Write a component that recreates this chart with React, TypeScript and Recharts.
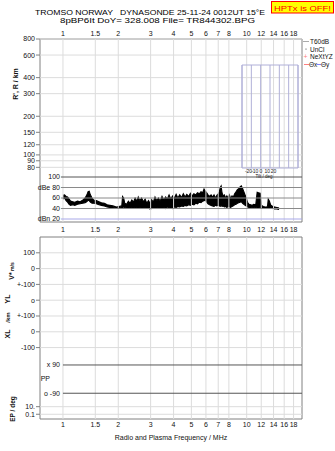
import React from 'react';
import {
  ComposedChart,
  XAxis,
  YAxis,
  Area,
  Line,
  LabelList,
  ReferenceLine,
  ReferenceArea,
  Label,
} from 'recharts';

const FONT = 'Liberation Sans, Arial, sans-serif';

// Frequency axis (MHz)
const freqDomain = [0.75, 20];
const freqTicks = [1, 1.5, 2, 3, 4, 5, 6, 7, 8, 10, 12, 14, 16, 18];

// Virtual range axis (km)
const rangeDomain = [30, 800];
const rangeTicks = [80, 90, 100, 120, 150, 200, 300, 400, 600, 800];

// Amplitude sub panel (dB)
const dbDomain = [14.3, 362.9];
const dbLevels = [100, 80, 60, 40, 20];
const dbLabels = ['100', 'dBe 80', '60', '40', 'dBn 20'];
const dbColors = ['#555555', '#8a8a8a', '#8a8a8a', '#8a8a8a', '#a8a8e8'];

// Noise / amplitude trace: frequency (MHz), lower and upper envelope (dB)
const traceFreq = [
  1.0, 1.02, 1.04, 1.06, 1.08, 1.1, 1.13, 1.16, 1.2, 1.24,
  1.28, 1.32, 1.35, 1.37, 1.39, 1.41, 1.44, 1.47, 1.52, 1.57,
  1.62, 1.68, 1.74, 1.8, 1.87, 1.95, 2.03, 2.09, 2.11, 2.14,
  2.17, 2.22, 2.27, 2.32, 2.37, 2.42, 2.47, 2.52, 2.57, 2.62,
  2.68, 2.74, 2.8, 2.86, 2.92, 2.98, 3.04, 3.1, 3.17, 3.24,
  3.31, 3.38, 3.46, 3.54, 3.62, 3.7, 3.78, 3.86, 3.95, 4.04,
  4.13, 4.22, 4.32, 4.42, 4.52, 4.62, 4.72, 4.83, 4.94, 5.05,
  5.16, 5.28, 5.4, 5.52, 5.64, 5.76, 5.86, 5.96, 6.06, 6.16,
  6.28, 6.4, 6.52, 6.64, 6.76, 6.88, 7.0, 7.1, 7.18, 7.26,
  7.34, 7.44, 7.56, 7.68, 7.8, 7.92, 8.05, 8.18, 8.32, 8.46,
  8.6, 8.75, 8.9, 9.05, 9.2, 9.35, 9.5, 9.65, 9.8, 9.95,
  10.1, 10.3, 10.5, 10.7, 10.9, 11.2, 11.4, 11.6, 11.85, 12.05,
  12.3, 12.6, 12.9, 13.0, 13.1, 13.3, 13.5, 13.8, 14.2, 14.6,
  15.0,
];
const traceLow = [
  58, 60, 55, 52, 48, 46, 47, 46, 48, 49,
  50, 51, 53, 56, 55, 52, 50, 50, 49, 47,
  46, 45, 43, 42, 42, 41, 41, 42, 42, 43,
  42, 41, 40, 42, 41, 40, 42, 41, 40, 42,
  40, 41, 42, 40, 41, 39, 40, 41, 40, 42,
  40, 41, 40, 42, 40, 43, 41, 42, 40, 43,
  42, 44, 43, 45, 44, 46, 45, 47, 46, 48,
  47, 50, 49, 52, 51, 54, 55, 56, 52, 49,
  47, 46, 45, 44, 46, 45, 46, 45, 44, 46,
  44, 45, 43, 44, 42, 44, 43, 42, 44, 45,
  47, 48, 50, 51, 52, 53, 50, 48, 46, 45,
  43, 42, 42, 41, 42, 41, 42, 42, 41, 41,
  41, 41, 40, 41, 41, 41, 40, 40, 39, 39,
  38,
];
const traceHigh = [
  65, 66, 63, 62, 58, 54, 53, 52, 54, 53,
  56, 60, 66, 72, 73, 66, 60, 56, 55, 53,
  51, 50, 47, 46, 45, 43, 44, 45, 63, 60,
  50, 48, 54, 50, 56, 52, 60, 54, 62, 55,
  60, 53, 58, 50, 55, 50, 57, 52, 62, 55,
  60, 54, 63, 56, 62, 58, 66, 58, 64, 60,
  67, 60, 66, 61, 68, 62, 67, 63, 69, 64,
  68, 66, 70, 68, 72, 70, 77, 73, 70, 66,
  63, 66, 62, 66, 60, 65, 68, 72, 80, 83,
  70, 64, 66, 60, 64, 60, 66, 59, 64, 62,
  68, 72, 76, 78, 81, 83, 78, 72, 66, 60,
  52, 48, 47, 46, 48, 47, 71, 70, 69, 46,
  44, 43, 43, 46, 58, 54, 47, 44, 43, 42,
  41,
];

// Tilt inset (deg)
const tiltGridDomain = [-30, 30];
const tiltLines = [-30, -20, -10, 0, 10, 20, 30];
const tiltLabelDomain = [-30.4, 59.2];
const tiltTicks = [-20, -10, 0, 10, 20];

// Lower panel rows
const lowerDomain = [0, 11.52];
const lowerRows = [1, 2, 3, 4, 5, 6, 7, 10.74, 11.22];
const lowerLabels = ['100', '0', '+-100', 'o', '+-100', '0', '-100', '10.', '0.1'];
// polarisation reference lines (x 90 / o -90), from 1 MHz to the right edge
const ppFreq = [1, 20];
const ppX90 = [8.1, 8.1];
const ppO90 = [9.89, 9.89];

// Legend entries
const legendItems = ['T60dB', 'UnCl', 'NeXtYZ'];

const traceData = traceFreq.map((f, i) => ({ f, db: [traceLow[i], traceHigh[i]] }));
const ppData = ppFreq.map((f, i) => ({ f, x90: ppX90[i], o90: ppO90[i] }));
const tiltData = tiltLines.map((t) => ({ t }));

const tickStyle = { fontSize: 7, fill: '#111', fontFamily: FONT };
const GRID = '#dcdcdc';
const FRAME = '#808080';
const TILT = '#b0b0d8';

const abs: React.CSSProperties = { position: 'absolute', left: 0, top: 0 };

const firstLabel = (text: string) => (props: any) => {
  if (props.index !== 0) return null;
  return (
    <text
      x={props.x - 3}
      y={props.y}
      dy="0.35em"
      textAnchor="end"
      fontSize={7}
      fill="#111"
      fontFamily={FONT}
    >
      {text}
    </text>
  );
};

function TopPanel() {
  return (
    <div style={abs}>
      <ComposedChart
        width={335}
        height={451}
        data={traceData}
        margin={{ top: 29, right: 33, bottom: 229, left: 10 }}
      >
        <XAxis
          xAxisId="f"
          dataKey="f"
          type="number"
          scale="log"
          domain={freqDomain}
          ticks={freqTicks}
          interval={0}
          allowDataOverflow
          orientation="top"
          height={10}
          tickSize={0}
          tickMargin={3}
          axisLine={false}
          tickLine={false}
          tick={tickStyle}
        />
        <YAxis
          yAxisId="r"
          type="number"
          scale="log"
          domain={rangeDomain}
          ticks={rangeTicks}
          interval={0}
          allowDataOverflow
          orientation="left"
          width={30}
          tickSize={4}
          tickMargin={1}
          axisLine={false}
          tickLine={{ stroke: FRAME }}
          tick={tickStyle}
        />
        <YAxis yAxisId="db" type="number" domain={dbDomain} allowDataOverflow orientation="right" hide />
        {freqTicks.map((f) => (
          <ReferenceLine key={'v' + f} xAxisId="f" yAxisId="r" x={f} stroke={GRID} />
        ))}
        {rangeTicks.map((r) => (
          <ReferenceLine key={'h' + r} xAxisId="f" yAxisId="r" y={r} stroke={GRID} />
        ))}
        <ReferenceArea
          xAxisId="f"
          yAxisId="r"
          x1={freqDomain[0]}
          x2={freqDomain[1]}
          y1={rangeDomain[0]}
          y2={rangeDomain[1]}
          fill="none"
          stroke={FRAME}
          fillOpacity={0}
        />
        {dbLevels.map((v, i) => (
          <ReferenceLine
            key={v}
            xAxisId="f"
            yAxisId="db"
            segment={[
              { x: 0.975, y: v },
              { x: freqDomain[1], y: v },
            ]}
            stroke={dbColors[i]}
            label={{ value: dbLabels[i], position: 'left', offset: 1, ...tickStyle }}
          />
        ))}
        <Area
          xAxisId="f"
          yAxisId="db"
          dataKey="db"
          type="linear"
          stroke="#000"
          strokeWidth={1.1}
          fill="#000"
          fillOpacity={1}
          dot={false}
          activeDot={false}
          isAnimationActive={false}
        />
      </ComposedChart>
    </div>
  );
}

function TiltInset() {
  return (
    <div style={abs}>
      <ComposedChart
        width={335}
        height={451}
        data={tiltData}
        margin={{ top: 65, right: 37, bottom: 274, left: 242 }}
      >
        <XAxis
          xAxisId="g"
          dataKey="t"
          type="number"
          domain={tiltGridDomain}
          allowDataOverflow
          orientation="top"
          height={0}
          hide
        />
        <XAxis
          xAxisId="t"
          dataKey="t"
          type="number"
          domain={tiltLabelDomain}
          ticks={tiltTicks}
          interval={0}
          allowDataOverflow
          orientation="bottom"
          height={9}
          tickSize={0}
          tickMargin={1}
          axisLine={false}
          tickLine={false}
          tick={{ fontSize: 5, fill: '#222', fontFamily: FONT }}
        />
        <YAxis yAxisId="ty" type="number" domain={[0, 1]} allowDataOverflow orientation="right" width={0} hide />
        {tiltLines.map((v) => (
          <ReferenceLine key={v} xAxisId="g" yAxisId="ty" x={v} stroke={TILT} />
        ))}
        <ReferenceArea
          xAxisId="g"
          yAxisId="ty"
          x1={tiltGridDomain[0]}
          x2={tiltGridDomain[1]}
          y1={0}
          y2={1}
          fill="none"
          fillOpacity={0}
          stroke={TILT}
        />
      </ComposedChart>
    </div>
  );
}

function LowerPanel() {
  return (
    <div style={abs}>
      <ComposedChart
        width={335}
        height={451}
        data={ppData}
        margin={{ top: 227, right: 33, bottom: 11, left: 10 }}
      >
        <XAxis
          xAxisId="top"
          dataKey="f"
          type="number"
          scale="log"
          domain={freqDomain}
          ticks={freqTicks}
          interval={0}
          allowDataOverflow
          orientation="top"
          height={10}
          tickSize={0}
          tickMargin={5}
          axisLine={false}
          tickLine={false}
          tick={tickStyle}
        />
        <XAxis
          xAxisId="bottom"
          dataKey="f"
          type="number"
          scale="log"
          domain={freqDomain}
          ticks={freqTicks}
          interval={0}
          allowDataOverflow
          orientation="bottom"
          height={21}
          tickSize={0}
          tickMargin={3}
          axisLine={false}
          tickLine={false}
          tick={tickStyle}
        >
          <Label
            value="Radio and Plasma Frequency / MHz"
            position="insideBottom"
            offset={0}
            style={{ fontSize: 7, fill: '#111', fontFamily: FONT }}
          />
        </XAxis>
        <YAxis
          yAxisId="row"
          type="number"
          domain={lowerDomain}
          allowDataOverflow
          reversed
          ticks={lowerRows}
          interval={0}
          width={30}
          tickSize={4}
          tickMargin={1}
          axisLine={false}
          tickLine={{ stroke: FRAME }}
          tick={tickStyle}
          tickFormatter={(v: number) => lowerLabels[lowerRows.indexOf(v)] ?? ''}
        />
        {freqTicks.map((f) => (
          <ReferenceLine key={'v' + f} xAxisId="top" yAxisId="row" x={f} stroke={GRID} />
        ))}
        {lowerRows.map((r) => (
          <ReferenceLine key={'h' + r} xAxisId="top" yAxisId="row" y={r} stroke={GRID} />
        ))}
        <ReferenceArea
          xAxisId="top"
          yAxisId="row"
          x1={freqDomain[0]}
          x2={freqDomain[1]}
          y1={lowerDomain[0]}
          y2={lowerDomain[1]}
          fill="none"
          fillOpacity={0}
          stroke={FRAME}
        />
        <Line
          xAxisId="top"
          yAxisId="row"
          dataKey="x90"
          type="linear"
          stroke="#555"
          strokeWidth={1}
          dot={false}
          activeDot={false}
          isAnimationActive={false}
        >
          <LabelList dataKey="x90" content={firstLabel('x 90')} />
        </Line>
        <Line
          xAxisId="bottom"
          yAxisId="row"
          dataKey="o90"
          type="linear"
          stroke="#555"
          strokeWidth={1}
          dot={false}
          activeDot={false}
          isAnimationActive={false}
        >
          <LabelList dataKey="o90" content={firstLabel('o -90')} />
        </Line>
      </ComposedChart>
    </div>
  );
}

function Decorations() {
  const vt = (x: number, y: number) => `rotate(-90 ${x} ${y})`;
  return (
    <svg width={335} height={451} style={abs}>
      <text
        x={35}
        y={14.6}
        fontSize={7.5}
        fontFamily={FONT}
        fill="#000"
        textLength={230}
        lengthAdjust="spacingAndGlyphs"
        style={{ whiteSpace: 'pre' }}
      >
        {'TROMSO NORWAY   DYNASONDE 25-11-24 0012UT 15°E'}
      </text>
      <text
        x={60}
        y={22.6}
        fontSize={7.5}
        fontFamily={FONT}
        fill="#000"
        textLength={195}
        lengthAdjust="spacingAndGlyphs"
      >
        8pBP6It DoY= 328.008 File= TR844302.BPG
      </text>
      <rect x={271.5} y={1.5} width={62} height={11.5} fill="#ffff00" stroke="#ff0000" />
      <text
        x={274}
        y={10.8}
        fontSize={8}
        fontFamily={FONT}
        fill="#ff0000"
        textLength={57}
        lengthAdjust="spacingAndGlyphs"
      >
        HPTx is OFF!
      </text>

      {/* tilt inset title */}
      <text x={264} y={177.8} textAnchor="middle" fontSize={4.5} fontFamily={FONT} fill="#222">
        Tilt / deg
      </text>

      {/* legend */}
      <line x1={303} x2={309} y1={41.5} y2={41.5} stroke="#aaaaaa" />
      <text x={310} y={44} fontSize={6.5} fontFamily={FONT} fill="#111">{legendItems[0]}</text>
      <circle cx={306} cy={49} r={0.6} fill="#333" />
      <text x={310} y={51.5} fontSize={6.5} fontFamily={FONT} fill="#111">{legendItems[1]}</text>
      <text x={303.5} y={58.5} fontSize={7} fontFamily={FONT} fill="#ff7f7f">+</text>
      <text x={310} y={58.5} fontSize={6.5} fontFamily={FONT} fill="#111">{legendItems[2]}</text>
      <line x1={304} x2={309} y1={64.5} y2={64.5} stroke="#ff7f7f" />
      <text x={309} y={67} fontSize={6.5} fontFamily={FONT} fill="#111">Θx</text>
      <line x1={317} x2={321} y1={64.5} y2={64.5} stroke="#7f7fff" />
      <text x={321} y={67} fontSize={6.5} fontFamily={FONT} fill="#111">Θy</text>

      {/* PP row label */}
      <text x={50} y={379} dy="0.35em" textAnchor="end" fontSize={7} fontFamily={FONT} fill="#111">PP</text>

      {/* axis titles */}
      <text x={15.5} y={84} transform={vt(15.5, 84)} dy="0.35em" fontSize={7} fontWeight="bold" fontFamily={FONT} fill="#111" textAnchor="middle">
        R', R / km
      </text>
      <text x={8} y={271} transform={vt(8, 271)} dy="0.35em" fontFamily={FONT} fill="#111" textAnchor="middle" fontWeight="bold">
        <tspan fontSize={7}>V*</tspan>
        <tspan fontSize={5}> m/s</tspan>
      </text>
      <text x={8} y={299} transform={vt(8, 299)} dy="0.35em" fontSize={7} fontWeight="bold" fontFamily={FONT} fill="#111" textAnchor="middle">
        YL
      </text>
      <text x={8} y={317.5} transform={vt(8, 317.5)} dy="0.35em" fontSize={6} fontWeight="bold" fontFamily={FONT} fill="#111" textAnchor="middle">
        /km
      </text>
      <text x={8} y={334} transform={vt(8, 334)} dy="0.35em" fontSize={7} fontWeight="bold" fontFamily={FONT} fill="#111" textAnchor="middle">
        XL
      </text>
      <text x={13} y={409} transform={vt(13, 409)} dy="0.35em" fontSize={6.5} fontWeight="bold" fontFamily={FONT} fill="#111" textAnchor="middle">
        EP / deg
      </text>
    </svg>
  );
}

export default function App() {
  return (
    <div style={{ position: 'absolute', left: 0, top: 0, width: 335, height: 451, background: '#fff', fontFamily: FONT }}>
      <TopPanel />
      <LowerPanel />
      <TiltInset />
      <Decorations />
    </div>
  );
}
